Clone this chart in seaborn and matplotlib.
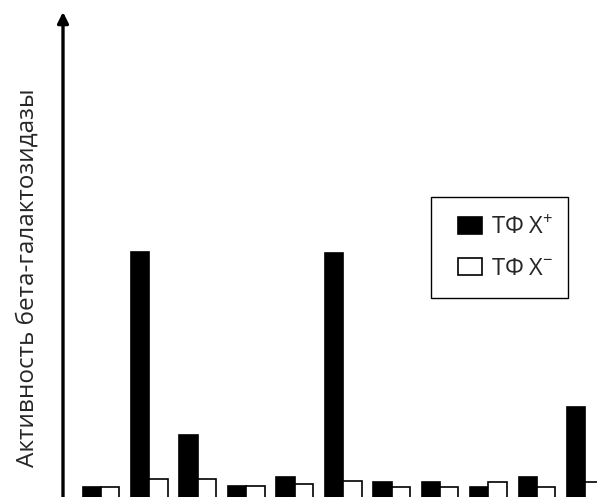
import numpy as np
import pandas as pd
import matplotlib
matplotlib.use("Agg")
import matplotlib.pyplot as plt
import matplotlib.patches as mpatches
import seaborn as sns

# =========================
# Data (arbitrary units)
# =========================
samples = ["1", "2", "3", "4", "5", "6", "7", "8", "9", "10", "11"]
tf_plus = [1.3, 24.8, 6.5, 1.4, 2.3, 24.7, 1.8, 1.8, 1.3, 2.3, 9.3]
tf_minus = [1.3, 2.1, 2.1, 1.4, 1.6, 1.9, 1.3, 1.3, 1.8, 1.3, 1.8]
series = ["ТФ X$^{+}$", "ТФ X$^{-}$"]
y_label = "Активность бета-галактозидазы"

df = pd.DataFrame({
    "sample": samples * 2,
    "value": tf_plus + tf_minus,
    "series": [series[0]] * len(samples) + [series[1]] * len(samples),
})

# =========================
# Setup
# =========================
sns.set_theme(style="white")
plt.rcParams["font.family"] = ["Open Sans", "DejaVu Sans"]
plt.rcParams["mathtext.default"] = "regular"

W, H = 597, 497
fig = plt.figure(figsize=(W / 100, H / 100), dpi=100)
ax = fig.add_axes([63 / W, 0, 1 - 63 / W, 1 - 12 / H])

sns.barplot(
    data=df, x="sample", y="value", hue="series",
    palette=["black", "white"], edgecolor="black", linewidth=1.2,
    width=0.76, gap=0, dodge=True, ax=ax, legend=True,
)

ax.set_xlim(-0.784, 10.24)
ax.set_ylim(0.3, 48.8)
ax.set_xticks([])
ax.set_yticks([])
ax.set_xlabel("")
ax.set_ylabel(y_label, fontsize=17.5)
ax.yaxis.set_label_coords(-0.043, 0.4526)
for s in ax.spines.values():
    s.set_visible(False)

# axis with arrow head
ax.annotate("", xy=(0, 1), xytext=(0, -0.01), xycoords="axes fraction",
            arrowprops=dict(arrowstyle="-|>", lw=2.4, color="black",
                            mutation_scale=16, shrinkA=0, shrinkB=0),
            annotation_clip=False)

# legend entries (no own frame) + box drawn around them
handles, labels = ax.get_legend_handles_labels()
ax.legend(handles, labels, loc="upper left",
          bbox_to_anchor=(458 / W, 1 - 216 / H), bbox_transform=fig.transFigure,
          borderaxespad=0, borderpad=0, fontsize=17, frameon=False,
          handlelength=1.02, handleheight=0.76, handletextpad=0.38,
          labelspacing=0.7)
fig.patches.append(mpatches.Rectangle(
    (430.7 / W, 1 - 298 / H), 137 / W, 101 / H, transform=fig.transFigure,
    fill=False, edgecolor="black", linewidth=1.0))

fig.savefig("out.png", dpi=100)
